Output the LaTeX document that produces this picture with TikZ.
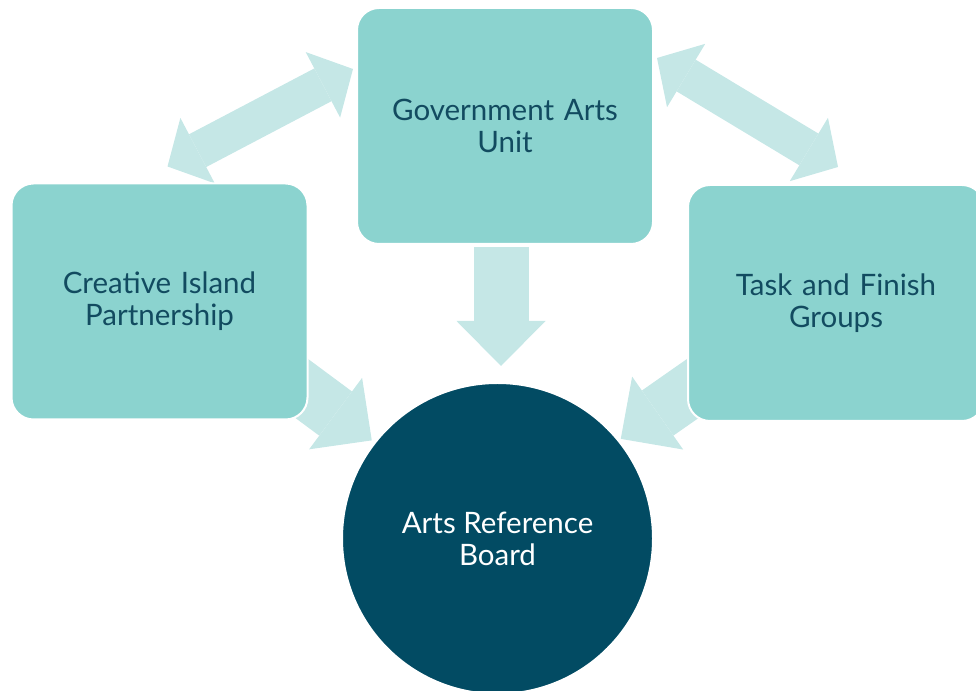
\documentclass[tikz,border=0pt]{standalone}
\usepackage{fontspec}
\setmainfont{Lato}
\usetikzlibrary{arrows.meta,backgrounds}
\definecolor{boxteal}{RGB}{139,211,207}
\definecolor{arrowteal}{RGB}{197,231,230}
\definecolor{boardblue}{RGB}{2,75,99}
\definecolor{textblue}{RGB}{18,75,96}
\tikzset{
  unitbox/.style={rectangle, rounded corners=22pt, fill=boxteal, draw=white, line width=2pt,
    minimum width=296pt, minimum height=236pt, text width=280pt, align=center,
    text=textblue, font=\fontsize{29.5}{32}\selectfont},
  boardcircle/.style={circle, fill=boardblue, draw=white, line width=2pt, minimum size=311pt,
    align=center, text=white, font=\fontsize{29.5}{32}\selectfont},
  bigarrow/.style={draw=arrowteal, line width=55pt,
    -{Triangle[length=45pt, width=89pt, line width=0pt]}},
  twoway/.style={draw=arrowteal, line width=37pt,
    {Triangle[length=34pt, width=74pt, line width=0pt]}-{Triangle[length=34pt, width=74pt, line width=0pt]}},
}
\begin{document}
\begin{tikzpicture}[x=1pt, y=1pt, node distance=237pt]
        \useasboundingbox (0,0) rectangle (976,690);
        \node [boardcircle] (board) at (497.5,151.5) {Arts Reference\\Board};
        \node [unitbox, above of=board, xshift=-338pt] (island) {Creative Island\\Partnership};
        \node [unitbox, above of=board, xshift=338.5pt, yshift=-1.5pt] (task) {Task and Finish\\Groups};
        \node [unitbox, above of=board, xshift=7.5pt, yshift=175.5pt] (gov) {Government Arts\\Unit};

        \begin{scope}[on background layer]
        \draw [twoway] ([shift={(8pt,16pt)}]island.north) -- ([shift={(-3pt,57pt)}]gov.west);
        \draw [twoway] ([shift={(3pt,68pt)}]gov.east) -- ([shift={(2pt,17pt)}]task.north);
        \draw [bigarrow] ([shift={(-4pt,-2pt)}]gov.south) -- ([shift={(3.5pt,16pt)}]board.north);
        \draw [bigarrow, shorten >=3pt] ([shift={(-31pt,50pt)}]island.south east) -- (board.142);
        \draw [bigarrow, shorten >=2pt] ([shift={(28.5pt,49.4pt)}]task.south west) -- (board.39);
        \end{scope}
      \end{tikzpicture}
\end{document}
